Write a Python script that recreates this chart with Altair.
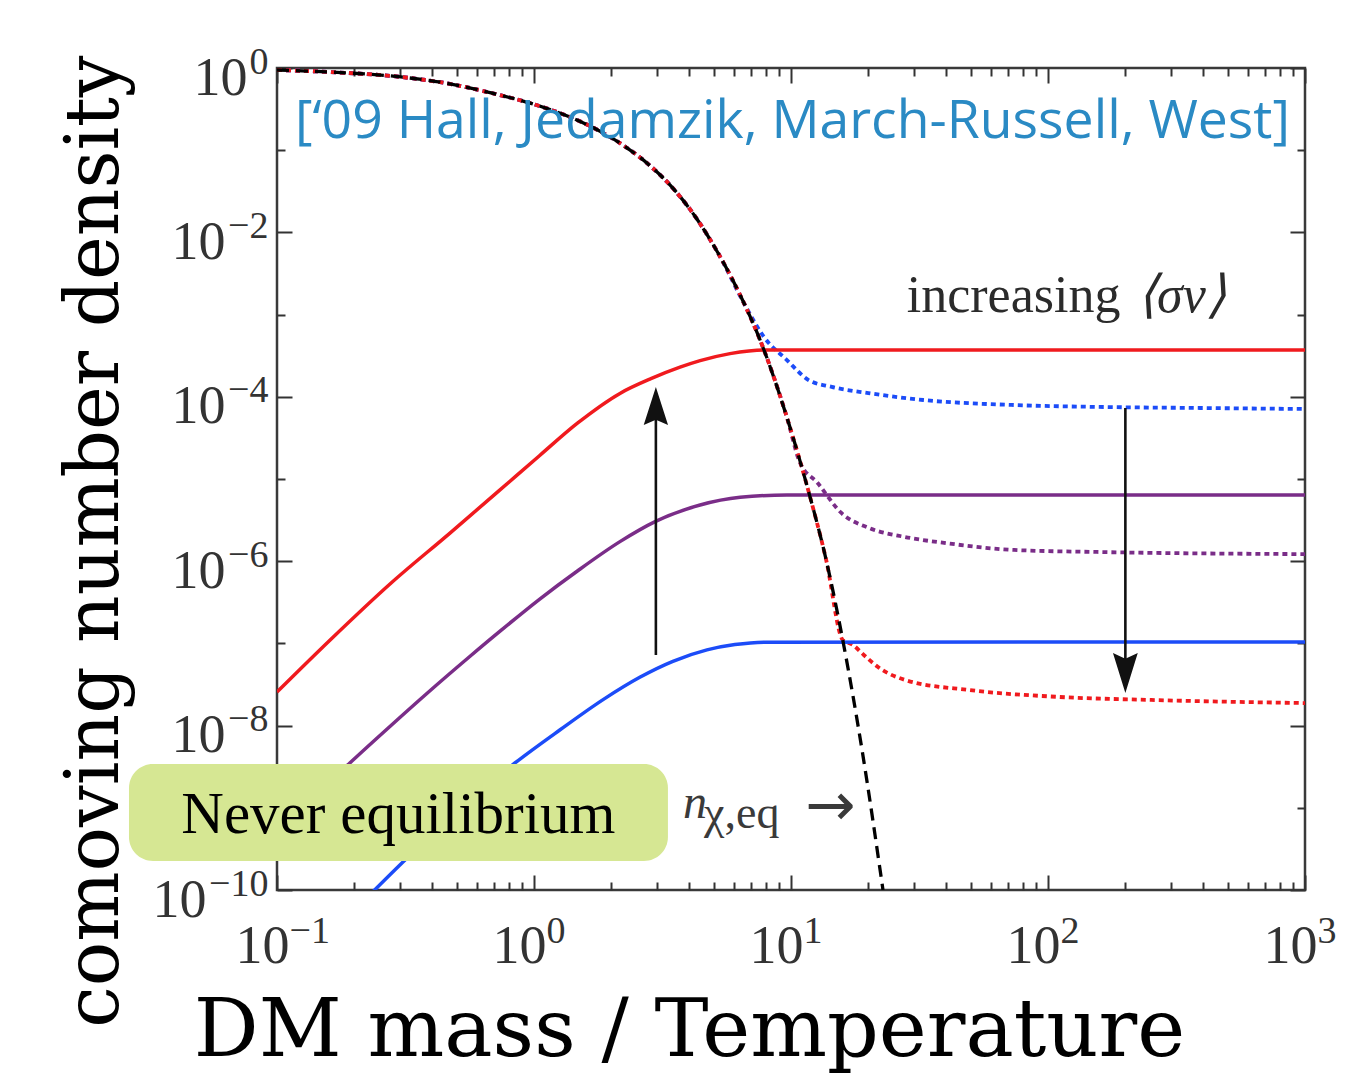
import altair as alt
import pandas as pd

# ---------------- values ----------------
# equilibrium density n_eq (black dashed)
eq_x = [0.1, 0.161, 0.303, 0.475, 0.681, 1.05, 1.71, 2.16, 2.75, 3.38, 4.27, 5.20,
        6.34, 7.85, 9.64, 11.7, 13.7, 15.9, 18.9, 22.8]
eq_y = [0.946, 0.893, 0.778, 0.638, 0.497, 0.345, 0.186, 0.122, 0.0698, 0.0378,
        0.0151, 0.00562, 0.00173, 3.71e-4, 5.62e-5, 7.08e-6, 1.04e-6, 1.10e-7,
        5.05e-9, 1.0e-10]

# freeze-in curves (solid)
red_x = [0.1, 0.161, 0.278, 0.471, 0.724, 1.05, 1.48, 2.16, 2.85, 3.70, 4.43, 5.79, 7.85, 1000]
red_y = [2.56e-8, 1.10e-7, 5.43e-7, 2.20e-6, 7.01e-6, 1.92e-5, 4.81e-5, 1.10e-4, 1.66e-4,
         2.29e-4, 2.75e-4, 3.35e-4, 3.71e-4, 3.71e-4]
purple_x = [0.1, 0.192, 0.275, 0.380, 0.564, 0.750, 1.05, 1.48, 2.16, 2.96, 4.43, 6.34, 9.64, 1000]
purple_y = [4.93e-10, 3.51e-9, 9.77e-9, 2.41e-8, 6.98e-8, 1.47e-7, 3.44e-7, 7.66e-7, 1.73e-6,
            3.03e-6, 4.82e-6, 5.98e-6, 6.39e-6, 6.39e-6]
blue_x = [0.210, 0.330, 0.843, 1.26, 1.87, 2.58, 3.47, 4.71, 6.05, 7.94, 1000]
blue_y = [6.6e-11, 2.67e-10, 3.51e-9, 8.84e-9, 2.10e-8, 3.87e-8, 6.05e-8, 8.34e-8, 9.68e-8,
          1.035e-7, 1.04e-7]

# freeze-out curves (dotted): follow n_eq, then depart
blue_dot_x = eq_x[:12] + [6.68, 7.85, 9.64, 11.7, 14.4, 20.0, 32.7, 73.8, 167, 390, 1000]
blue_dot_y = eq_y[:12] + [1.24e-3, 5.34e-4, 2.80e-4, 1.60e-4, 1.32e-4, 1.11e-4, 9.14e-5,
                          7.94e-5, 7.51e-5, 7.31e-5, 7.11e-5]
purple_dot_x = eq_x[:15] + [10.8, 12.7, 15.7, 20.1, 27.8, 40.1, 73.8, 167, 1000]
purple_dot_y = eq_y[:15] + [1.62e-5, 8.93e-6, 3.86e-6, 2.54e-6, 1.97e-6, 1.66e-6, 1.37e-6,
                            1.29e-6, 1.22e-6]
red_dot_x = eq_x[:18] + [17.4, 19.2, 21.8, 27.8, 49.3, 111, 252, 1000]
red_dot_y = eq_y[:18] + [9.6e-8, 7.23e-8, 5.16e-8, 3.59e-8, 2.71e-8, 2.23e-8, 2.05e-8, 1.88e-8]

SERIES = ["red", "purple", "blue"]
COLORS = ["#f01a1e", "#7a2d88", "#1c4cf8"]

# arrows (up: freeze-in grows, down: freeze-out shrinks)
up_x, up_from, up_head = [2.98], [7.23e-8], [7.73e-5]
down_x, down_from, down_head = [200.0], [7.31e-5], [4.36e-8]

# annotation box "Never equilibrium"
box_x1, box_x2, box_y1, box_y2 = [0.02655], [3.32], [3.41e-9], [2.25e-10]

# axis ticks and labels
x_major = [0.1, 1, 10, 100, 1000]
x_exps = [-1, 0, 1, 2, 3]
x_exp_labels = ["\u22121", "0", "1", "2", "3"]
x_minor = [m * d for d in [0.1, 1, 10, 100] for m in [2, 3, 4, 5, 6, 7, 8, 9]]
y_major = [1, 1e-2, 1e-4, 1e-6, 1e-8, 1e-10]
y_exps = [0, -2, -4, -6, -8, -10]
y_exp_labels = ["0", "\u22122", "\u22124", "\u22126", "\u22128", "\u221210"]
y_minor = [1e-1, 1e-3, 1e-5, 1e-7, 1e-9]
BASE_LABEL = "10"
y_base_short = [1]                          # exponent "0"
y_base_mid = [1e-2, 1e-4, 1e-6, 1e-8]       # exponents "-2".."-8"
y_base_long = [1e-10]                       # exponent "-10"

# ---------------- build chart ----------------
def df_lines(pairs):
    rows = []
    for name, xs_, ys_ in pairs:
        for a, b in zip(xs_, ys_):
            rows.append({"series": name, "x": a, "y": b})
    return pd.DataFrame(rows)

solid_df = df_lines([("red", red_x, red_y), ("purple", purple_x, purple_y), ("blue", blue_x, blue_y)])
dot_df = df_lines([("blue", blue_dot_x, blue_dot_y), ("purple", purple_dot_x, purple_dot_y),
                   ("red", red_dot_x, red_dot_y)])
eq_df = pd.DataFrame({"x": eq_x, "y": eq_y})

XS = alt.Scale(type="log", domain=[0.1, 1000], nice=False)
YS = alt.Scale(type="log", domain=[1e-10, 1], nice=False)
CS = alt.Scale(domain=SERIES, range=COLORS)
TICK = "#333333"
LBL = "#333333"
LABEL_FONT = "Liberation Serif"


def label_expr(exps, labels):
    s = ""
    for e, l in zip(exps, labels):
        s += f"round(log(datum.value)/LN10) == {e} ? '{l}' : "
    return s + "''"


def tick_axis(orient, values, size, **extra):
    opts = dict(orient=orient, values=values, tickSize=size, offset=-size, domain=False,
                grid=False, labels=False, title=None, tickColor=TICK, tickWidth=2)
    opts.update(extra)
    return alt.Axis(**opts)


def base_axis(orient, values, padding, **extra):
    opts = dict(orient=orient, values=values, ticks=False, tickSize=0, offset=0, domain=False,
                grid=False, labels=True, title=None, labelExpr=f"'{BASE_LABEL}'",
                labelFont=LABEL_FONT, labelFontSize=54, labelColor=LBL, labelPadding=padding,
                labelBaseline="alphabetic", labelFlush=False, labelOverlap=False, labelBound=False)
    opts.update(extra)
    return alt.Axis(**opts)


# exponent labels carried by the major-tick axes
ax_bottom = tick_axis(
    "bottom", x_major, 15, labels=True, labelExpr=label_expr(x_exps, x_exp_labels),
    labelFont=LABEL_FONT, labelFontSize=38, labelColor=LBL, labelPadding=52,
    labelBaseline="alphabetic", labelAlign="left", labelOffset=12, labelFlush=False,
    labelOverlap=False, labelBound=False)
ax_left = tick_axis(
    "left", y_major, 15, labels=True, labelExpr=label_expr(y_exps, y_exp_labels),
    labelFont=LABEL_FONT, labelFontSize=38, labelColor=LBL, labelPadding=9,
    labelBaseline="alphabetic", labelAlign="right", labelOffset=5, labelFlush=False,
    labelOverlap=False, labelBound=False,
    title="comoving number density", titleFont="DejaVu Serif", titleFontSize=74,
    titleFontWeight="normal", titleColor="#000000", titleAngle=270, titleX=-175,
    titleY=473, titleAlign="center", titleBaseline="alphabetic")

# "10" bases
ax_x_base = base_axis("bottom", x_major, 72, labelAlign="right", labelOffset=12,
                      title="DM mass / Temperature", titleFont="DejaVu Serif", titleFontSize=81,
                      titleFontWeight="normal", titleColor="#000000", titleX=412, titleY=165,
                      titleAlign="center", titleBaseline="alphabetic")
ax_y_base_short = base_axis("left", y_base_short, 30, labelAlign="right", labelOffset=26)
ax_y_base_mid = base_axis("left", y_base_mid, 52, labelAlign="right", labelOffset=26)
ax_y_base_long = base_axis("left", y_base_long, 71, labelAlign="right", labelOffset=26)

dotted = alt.Chart(dot_df).mark_line(strokeWidth=3.8, strokeDash=[5, 4], clip=True,
                                     interpolate="monotone").encode(
    x=alt.X("x:Q", scale=XS, axis=tick_axis("bottom", x_minor, 8)),
    y=alt.Y("y:Q", scale=YS, axis=tick_axis("left", y_minor, 8)),
    color=alt.Color("series:N", scale=CS, legend=None),
)

solid = alt.Chart(solid_df).mark_line(strokeWidth=3.5, clip=True, interpolate="monotone").encode(
    x=alt.X("x:Q", scale=XS, axis=ax_bottom),
    y=alt.Y("y:Q", scale=YS, axis=ax_left),
    color=alt.Color("series:N", scale=CS, legend=None),
)

eq = alt.Chart(eq_df).mark_line(strokeWidth=3.3, strokeDash=[12, 7], color="#000000", clip=True,
                                interpolate="monotone").encode(
    x=alt.X("x:Q", scale=XS, axis=tick_axis("top", x_major, 15)),
    y=alt.Y("y:Q", scale=YS, axis=tick_axis("right", y_major, 15)),
)

arrow_df = pd.DataFrame({"x": up_x + down_x, "y1": up_from + down_from, "y2": up_head + down_head})
arrow_lines = alt.Chart(arrow_df).mark_rule(strokeWidth=2.6, color="#111111").encode(
    x=alt.X("x:Q", scale=XS, axis=tick_axis("top", x_minor, 8)),
    y=alt.Y("y1:Q", scale=YS, axis=tick_axis("right", y_minor, 8)),
    y2="y2:Q",
)

UP_PATH = "M0,-1L0.64,1L0,0.72L-0.64,1Z"
DOWN_PATH = "M0,1L0.62,-1L0,-0.72L-0.62,-1Z"
up_head_layer = alt.Chart(pd.DataFrame({"x": up_x, "y": up_head})).mark_point(
    shape=UP_PATH, size=1444, filled=True, opacity=1, color="#111111", strokeWidth=0).encode(
    x=alt.X("x:Q", scale=XS, axis=None), y=alt.Y("y:Q", scale=YS, axis=ax_y_base_mid))
down_head_layer = alt.Chart(pd.DataFrame({"x": down_x, "y": down_head})).mark_point(
    shape=DOWN_PATH, size=1600, filled=True, opacity=1, color="#111111", strokeWidth=0).encode(
    x=alt.X("x:Q", scale=XS, axis=None), y=alt.Y("y:Q", scale=YS, axis=ax_y_base_long))

box = alt.Chart(pd.DataFrame({"x1": box_x1, "x2": box_x2, "y1": box_y1, "y2": box_y2})).mark_rect(
    cornerRadius=24, color="#d6e793", opacity=1).encode(
    x=alt.X("x1:Q", scale=XS, axis=ax_x_base), x2="x2:Q",
    y=alt.Y("y1:Q", scale=YS, axis=ax_y_base_short), y2="y2:Q")


def text_layer(x, y, text, **style):
    return alt.Chart(pd.DataFrame({"x": [x], "y": [y], "t": [text]})).mark_text(**style).encode(
        x=alt.X("x:Q", scale=XS, axis=None), y=alt.Y("y:Q", scale=YS, axis=None), text="t:N")


texts = [
    text_layer(0.2968, 4.93e-10, "Never equilibrium", font="Liberation Serif", fontSize=59,
               align="center", baseline="alphabetic", color="#000000"),
    text_layer(0.1175, 0.1407, "[\u201809 Hall, Jedamzik, March-Russell, West]", font="Open Sans",
               fontSize=53.5, align="left", baseline="alphabetic", color="#2a8ac4"),
    text_layer(28.2, 1.08e-3, "increasing", font="Liberation Serif", fontSize=52,
               align="left", baseline="alphabetic", color="#2b2b2b"),
    text_layer(222, 1.08e-3, "\u27e8\u03c3v\u27e9", font="Liberation Serif", fontSize=52,
               fontStyle="italic", align="left", baseline="alphabetic", color="#2b2b2b"),
    text_layer(3.80, 7.51e-10, "n", font="Liberation Serif", fontSize=48, fontStyle="italic",
               align="left", baseline="alphabetic", color="#3a3a3a"),
    text_layer(4.59, 5.68e-10, "\u03c7,eq", font="Liberation Serif", fontSize=46,
               align="left", baseline="alphabetic", color="#3a3a3a"),
    text_layer(11.4, 1.02e-9, "\u2192", font="DejaVu Sans", fontSize=60,
               align="left", baseline="middle", color="#3a3a3a"),
]

chart = alt.layer(
    dotted, solid, eq, arrow_lines, up_head_layer, down_head_layer, box, *texts
).resolve_axis(x="independent", y="independent").properties(
    width=1028, height=822,
    padding={"left": 269, "top": 60, "right": 51, "bottom": 183},
    autosize=alt.AutoSizeParams(type="none"),
    background="#ffffff",
).configure_view(stroke="#3a3a3a", strokeWidth=2.5)

chart.save("out.html", embed_options={"renderer": "svg", "actions": False})
